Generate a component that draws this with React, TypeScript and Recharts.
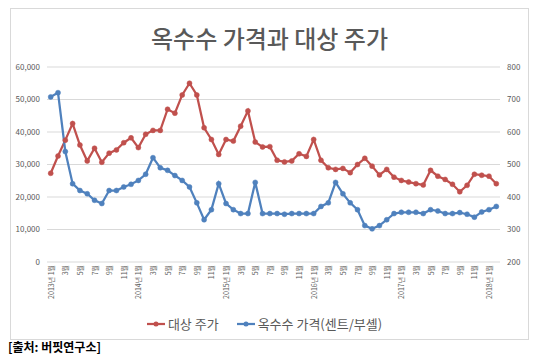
import { CartesianGrid, Line, LineChart, XAxis, YAxis } from 'recharts';

const months = [
  '2013년 1월', '2월', '3월', '4월', '5월', '6월', '7월', '8월', '9월', '10월', '11월', '12월',
  '2014년 1월', '2월', '3월', '4월', '5월', '6월', '7월', '8월', '9월', '10월', '11월', '12월',
  '2015년 1월', '2월', '3월', '4월', '5월', '6월', '7월', '8월', '9월', '10월', '11월', '12월',
  '2016년 1월', '2월', '3월', '4월', '5월', '6월', '7월', '8월', '9월', '10월', '11월', '12월',
  '2017년 1월', '2월', '3월', '4월', '5월', '6월', '7월', '8월', '9월', '10월', '11월', '12월',
  '2018년 1월', '2월',
];

// 대상 주가 (원, 왼쪽 축)
const stockPrice = [
  27300, 32600, 37500, 42600, 36000, 31100, 35000, 30700, 33500, 34500, 36700, 38200,
  35200, 39300, 40500, 40500, 47000, 45800, 51400, 55000, 51400, 41300, 37700, 33100,
  37700, 37200, 41800, 46500, 36900, 35400, 35500, 31300, 30800, 31100, 33300, 32500,
  37700, 31300, 29000, 28500, 28800, 27500, 30000, 31900, 29500, 26800, 28500, 26100,
  25100, 24600, 24100, 23700, 28200, 26400, 25400, 23900, 21600, 23600, 27000, 26700,
  26400, 24100,
];

// 옥수수 가격 (센트/부셸, 오른쪽 축)
const cornPrice = [
  708, 721, 540, 441, 420, 410, 390, 380, 420, 420, 431, 439,
  451, 470, 521, 490, 482, 466, 451, 431, 382, 330, 361, 441,
  380, 361, 349, 349, 445, 349, 349, 349, 347, 349, 349, 349,
  349, 371, 382, 445, 410, 382, 361, 312, 302, 312, 330, 349,
  353, 353, 353, 349, 361, 357, 349, 349, 352, 347, 338, 354,
  361, 371,
];

const leftTicks = [0, 10000, 20000, 30000, 40000, 50000, 60000];
const rightTicks = [200, 300, 400, 500, 600, 700, 800];

const data = months.map((month, i) => ({ month, stock: stockPrice[i], corn: cornPrice[i] }));

const FONT = "'Noto Sans CJK KR', 'Noto Sans', sans-serif";
const GRAY = '#595959';
const RED = '#C0504D';
const BLUE = '#4F81BD';

function MonthTick({ x, y, payload }: any) {
  return (
    <text
      x={x}
      y={y}
      transform={`rotate(-90, ${x}, ${y})`}
      textAnchor="end"
      dominantBaseline="central"
      fontSize={7}
      fill={GRAY}
      fontFamily={FONT}
    >
      {payload.value}
    </text>
  );
}

function LegendItem({ color, label }: { color: string; label: string }) {
  return (
    <span style={{ display: 'inline-flex', alignItems: 'center', marginRight: 18 }}>
      <svg width={18} height={10} style={{ marginRight: 3 }}>
        <line x1={0} y1={5} x2={18} y2={5} stroke={color} strokeWidth={2.25} />
        <circle cx={9} cy={5} r={2.5} fill={color} />
      </svg>
      {label}
    </span>
  );
}

export default function App() {
  return (
    <div style={{ position: 'absolute', left: 0, top: 0, width: 545, height: 357, background: '#fff', fontFamily: FONT }}>
      <div style={{ position: 'absolute', left: 10, top: 8, width: 517, height: 330, border: '1px solid #D9D9D9' }} />
      <div
        style={{
          position: 'absolute', left: 10, top: 23, width: 519, textAlign: 'center',
          fontSize: 24, lineHeight: '30px', color: GRAY, fontWeight: 500,
        }}
      >
        옥수수 가격과 대상 주가
      </div>
      <div style={{ position: 'absolute', left: 0, top: 0 }}>
        <LineChart width={545} height={357} data={data} margin={{ top: 67, right: 0, left: 10, bottom: 55 }}>
          <CartesianGrid yAxisId="left" stroke="#D9D9D9" vertical={false} />
          <XAxis
            dataKey="month"
            interval={1}
            tick={<MonthTick />}
            tickSize={2}
            tickMargin={1}
            axisLine={false}
            tickLine={false}
            height={40}
            padding={{ left: 3.7, right: 3.7 }}
          />
          <YAxis
            yAxisId="left"
            domain={[0, 60000]}
            ticks={leftTicks}
            tickFormatter={(v: number) => v.toLocaleString('en-US')}
            tick={{ fontSize: 8, fill: GRAY, fontFamily: FONT }}
            axisLine={false}
            tickLine={false}
            tickSize={6}
            tickMargin={1}
            width={37}
          />
          <YAxis
            yAxisId="right"
            orientation="right"
            domain={[200, 800]}
            ticks={rightTicks}
            tick={{ fontSize: 8, fill: GRAY, fontFamily: FONT, textAnchor: 'start' }}
            axisLine={false}
            tickLine={false}
            tickSize={6}
            tickMargin={1}
            width={45}
          />
          <Line
            yAxisId="left"
            dataKey="stock"
            stroke={RED}
            strokeWidth={2.25}
            dot={{ r: 2.5, fill: RED, stroke: RED, strokeWidth: 0.5 }}
            isAnimationActive={false}
          />
          <Line
            yAxisId="right"
            dataKey="corn"
            stroke={BLUE}
            strokeWidth={2.25}
            dot={{ r: 2.5, fill: BLUE, stroke: BLUE, strokeWidth: 0.5 }}
            isAnimationActive={false}
          />
        </LineChart>
      </div>
      <div
        style={{
          position: 'absolute', left: 10, top: 315, width: 519, display: 'flex', justifyContent: 'center',
          fontSize: 13, lineHeight: '18px', color: GRAY, paddingLeft: 8, boxSizing: 'border-box',
        }}
      >
        <LegendItem color={RED} label="대상 주가" />
        <LegendItem color={BLUE} label="옥수수 가격(센트/부셸)" />
      </div>
      <div style={{ position: 'absolute', left: 8, top: 339, fontSize: 12, fontWeight: 'bold', color: '#000', lineHeight: '15px' }}>
        [출처: 버핏연구소]
      </div>
    </div>
  );
}
